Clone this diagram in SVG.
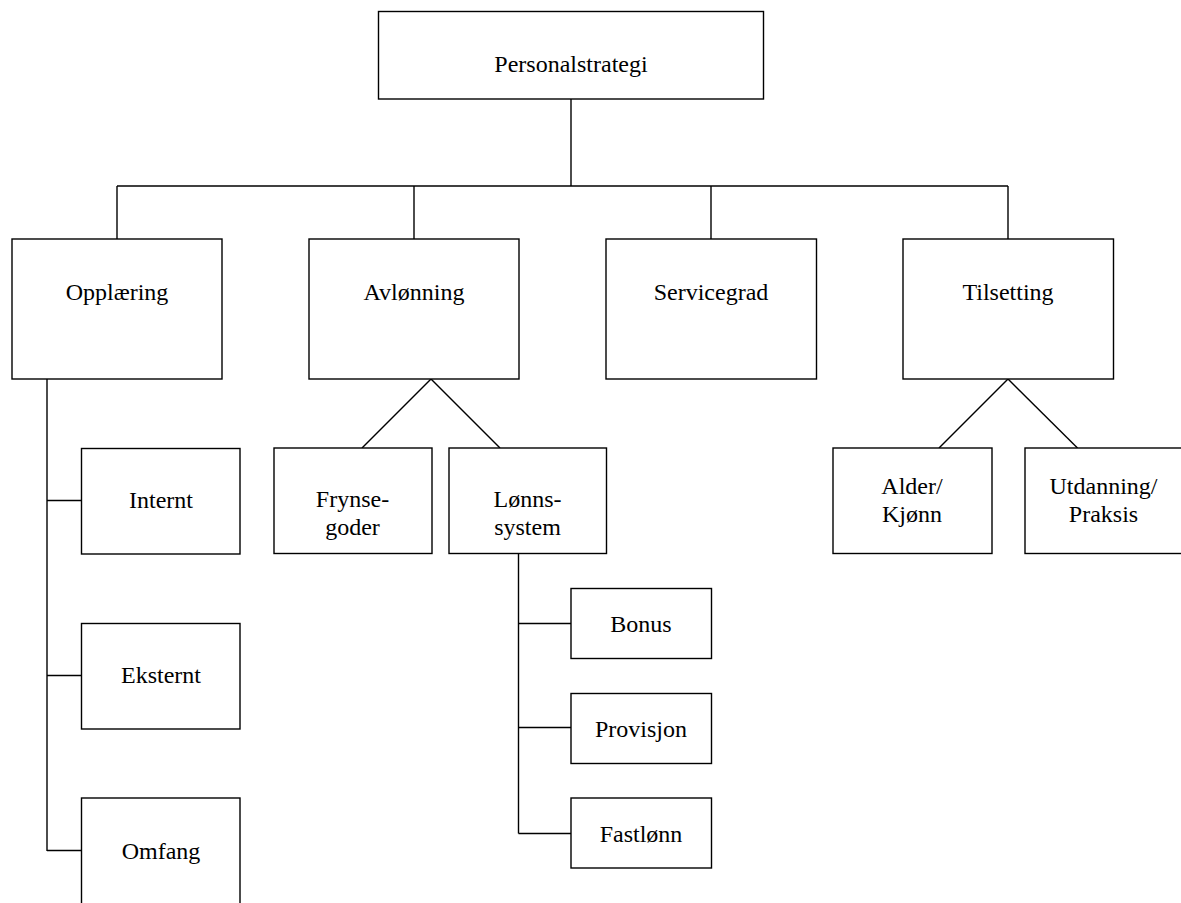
<svg xmlns="http://www.w3.org/2000/svg" width="1181" height="903" viewBox="0 0 1181 903">
<style>
rect{fill:#fff;stroke:#000;stroke-width:1.4}
.c line{stroke:#000;stroke-width:1.4;fill:none}
text{font-family:"Liberation Serif","Times New Roman",serif;font-size:24px;fill:#000;text-anchor:middle}
</style>
<rect x="0" y="0" width="1181" height="903" style="stroke:none"/>
<g class="c" id="connectors">
<line x1="571" y1="99" x2="571" y2="186"/>
<line x1="117" y1="186" x2="1008" y2="186"/>
<line x1="117" y1="186" x2="117" y2="239"/>
<line x1="414" y1="186" x2="414" y2="239"/>
<line x1="711" y1="186" x2="711" y2="239"/>
<line x1="1008" y1="186" x2="1008" y2="239"/>
<line x1="47" y1="379" x2="47" y2="851"/>
<line x1="47" y1="500.5" x2="81.5" y2="500.5"/>
<line x1="47" y1="675.5" x2="81.5" y2="675.5"/>
<line x1="47" y1="850.5" x2="81.5" y2="850.5"/>
<line x1="431" y1="379" x2="362" y2="448"/>
<line x1="431" y1="379" x2="500" y2="448"/>
<line x1="1008" y1="379" x2="939" y2="448"/>
<line x1="1008" y1="379" x2="1077.5" y2="448"/>
<line x1="518.5" y1="554" x2="518.5" y2="833.5"/>
<line x1="518.5" y1="623.5" x2="571" y2="623.5"/>
<line x1="518.5" y1="727.5" x2="571" y2="727.5"/>
<line x1="518.5" y1="833.5" x2="571" y2="833.5"/>
</g>
<g id="personalstrategi"><rect x="378.5" y="11.5" width="385" height="87.5"/><text x="571" y="72">Personalstrategi</text></g>
<g id="opplaering"><rect x="12" y="239" width="210" height="140"/><text x="117" y="300">Opplæring</text></g>
<g id="avlonning"><rect x="309" y="239" width="210" height="140"/><text x="414" y="300">Avlønning</text></g>
<g id="servicegrad"><rect x="606" y="239" width="210.5" height="140"/><text x="711" y="300">Servicegrad</text></g>
<g id="tilsetting"><rect x="903" y="239" width="210.5" height="140"/><text x="1008" y="300">Tilsetting</text></g>
<g id="internt"><rect x="81.5" y="448.5" width="158.5" height="105.5"/><text x="161" y="508">Internt</text></g>
<g id="eksternt"><rect x="81.5" y="623.5" width="158.5" height="105.5"/><text x="161" y="683">Eksternt</text></g>
<g id="omfang"><rect x="81.5" y="798" width="158.5" height="108"/><text x="161" y="858.5">Omfang</text></g>
<g id="frynsegoder"><rect x="274" y="448" width="158" height="105.5"/><text x="352.5" y="507">Frynse-</text><text x="352.5" y="535">goder</text></g>
<g id="lonnssystem"><rect x="449" y="448" width="157.5" height="105.5"/><text x="527.5" y="507">Lønns-</text><text x="527.5" y="535">system</text></g>
<g id="alder"><rect x="833" y="448" width="159" height="105.5"/><text x="912" y="494">Alder/</text><text x="912" y="522">Kjønn</text></g>
<g id="utdanning"><rect x="1025" y="448" width="158" height="105.5"/><text x="1103.5" y="494">Utdanning/</text><text x="1103.5" y="522">Praksis</text></g>
<g id="bonus"><rect x="571" y="588.5" width="140.5" height="70"/><text x="641" y="632">Bonus</text></g>
<g id="provisjon"><rect x="571" y="693.5" width="140.5" height="70"/><text x="641" y="737">Provisjon</text></g>
<g id="fastlonn"><rect x="571" y="798" width="140.5" height="70"/><text x="641" y="842">Fastlønn</text></g>
</svg>
